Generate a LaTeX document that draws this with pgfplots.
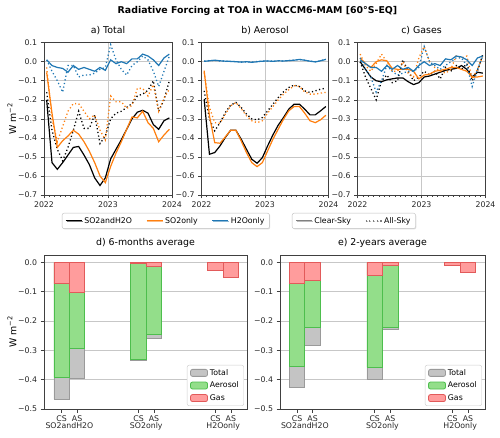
\documentclass[border=0pt]{standalone}
\usepackage{fontspec}
\setmainfont{DejaVu Sans}
\usepackage{pgfplots}
\usepackage{pgfplotstable}
\pgfplotsset{compat=1.18}
\usetikzlibrary{shadows}
\definecolor{C0}{HTML}{1F77B4}
\definecolor{C1}{HTML}{FF7F0E}
\definecolor{totfill}{HTML}{C4C4C4}
\definecolor{totedge}{HTML}{9A9A9A}
\definecolor{aerfill}{HTML}{93DE8A}
\definecolor{aeredge}{HTML}{4DBE4D}
\definecolor{gasfill}{HTML}{FF9C9C}
\definecolor{gasedge}{HTML}{E25A5A}
\newcommand\tickfont{\fontsize{7.8}{9}\selectfont}
\newcommand\titfont{\fontsize{9.4}{11}\selectfont}

% panel a) Total
\pgfplotstableread{
x csSH asSH csS asS csH asH
0.5 -0.200 -0.16 -0.056 -0.03 0.010 0.01
1.5 -0.530 -0.36 -0.270 -0.30 -0.020 -0.05
2.5 -0.565 -0.46 -0.450 -0.42 -0.030 -0.10
3.5 -0.530 -0.52 -0.415 -0.34 -0.035 -0.16
4.5 -0.490 -0.45 -0.390 -0.26 -0.055 -0.02
5.5 -0.450 -0.36 -0.360 -0.22 -0.020 -0.02
6.5 -0.445 -0.26 -0.380 -0.22 -0.040 -0.08
7.5 -0.490 -0.35 -0.420 -0.26 -0.030 -0.07
8.5 -0.540 -0.35 -0.470 -0.30 -0.040 -0.07
9.5 -0.610 -0.28 -0.530 -0.28 -0.050 -0.06
10.5 -0.650 -0.43 -0.600 -0.36 -0.030 -0.04
11.5 -0.610 -0.39 -0.635 -0.41 -0.045 -0.03
12.5 -0.510 -0.30 -0.550 -0.18 0.010 0.09
13.5 -0.460 -0.27 -0.480 -0.21 -0.010 0.01
14.5 -0.410 -0.26 -0.420 -0.21 0.000 -0.04
15.5 -0.355 -0.24 -0.355 -0.245 -0.010 -0.07
16.5 -0.300 -0.22 -0.290 -0.23 0.015 -0.02
17.5 -0.265 -0.18 -0.295 -0.14 0.015 0.00
18.5 -0.255 -0.17 -0.260 -0.14 0.040 0.03
19.5 -0.270 -0.15 -0.320 -0.18 0.030 0.01
20.5 -0.330 -0.10 -0.350 -0.12 0.010 -0.05
21.5 -0.355 -0.26 -0.420 -0.26 -0.020 -0.13
22.5 -0.310 -0.20 -0.385 -0.19 0.020 -0.05
23.5 -0.295 -0.10 -0.355 -0.145 0.040 0.03
}\tabA

% panel b) Aerosol
\pgfplotstableread{
x csSH asSH csS asS csH asH
0.5 -0.197 -0.153 -0.047 -0.056 0.002 0.004
1.5 -0.486 -0.300 -0.284 -0.240 0.005 0.006
2.5 -0.477 -0.363 -0.425 -0.320 0.008 0.007
3.5 -0.442 -0.320 -0.428 -0.323 0.005 0.004
4.5 -0.398 -0.267 -0.395 -0.275 0.003 0.003
5.5 -0.360 -0.228 -0.360 -0.232 0.002 0.001
6.5 -0.360 -0.214 -0.360 -0.214 0.000 0.001
7.5 -0.407 -0.240 -0.416 -0.246 -0.002 -0.002
8.5 -0.460 -0.275 -0.477 -0.284 0.000 -0.001
9.5 -0.512 -0.300 -0.530 -0.310 -0.003 -0.002
10.5 -0.533 -0.305 -0.551 -0.320 0.000 0.001
11.5 -0.504 -0.293 -0.530 -0.310 0.003 0.003
12.5 -0.442 -0.258 -0.468 -0.270 0.004 0.004
13.5 -0.384 -0.223 -0.407 -0.235 0.002 0.003
14.5 -0.333 -0.188 -0.354 -0.200 0.005 0.005
15.5 -0.293 -0.158 -0.302 -0.170 0.004 0.004
16.5 -0.249 -0.135 -0.258 -0.147 0.006 0.006
17.5 -0.223 -0.123 -0.235 -0.126 0.008 0.008
18.5 -0.223 -0.130 -0.235 -0.130 0.012 0.012
19.5 -0.249 -0.153 -0.270 -0.158 0.008 0.008
20.5 -0.279 -0.161 -0.310 -0.170 0.003 0.003
21.5 -0.279 -0.153 -0.320 -0.170 -0.001 0.000
22.5 -0.258 -0.144 -0.305 -0.165 0.005 0.005
23.5 -0.235 -0.139 -0.281 -0.161 0.012 0.013
}\tabB

% panel c) Gases
\pgfplotstableread{
x csSH asSH csS asS csH asH
0.5 0.000 0.00 0.020 0.04 0.010 0.02
1.5 -0.040 -0.08 -0.010 -0.02 -0.010 -0.04
2.5 -0.080 -0.14 -0.030 -0.05 -0.030 -0.08
3.5 -0.100 -0.20 0.000 -0.01 -0.030 -0.16
4.5 -0.105 -0.10 0.010 0.04 -0.050 -0.10
5.5 -0.095 -0.07 0.005 0.00 -0.020 -0.02
6.5 -0.090 -0.11 -0.035 -0.05 -0.040 -0.05
7.5 -0.085 -0.10 -0.040 -0.05 -0.020 -0.07
8.5 -0.085 0.01 -0.040 0.00 -0.040 -0.06
9.5 -0.105 -0.05 -0.040 -0.06 -0.030 -0.05
10.5 -0.120 -0.10 -0.050 -0.08 -0.050 -0.05
11.5 -0.110 -0.08 -0.090 0.02 -0.020 -0.03
12.5 -0.080 -0.05 -0.070 0.08 0.000 0.08
13.5 -0.075 -0.07 -0.065 0.00 -0.020 0.00
14.5 -0.065 -0.05 -0.050 -0.03 -0.010 -0.02
15.5 -0.055 -0.09 -0.045 -0.05 -0.020 -0.04
16.5 -0.045 -0.03 -0.040 -0.06 0.015 -0.02
17.5 -0.040 -0.05 -0.030 -0.04 0.010 0.00
18.5 -0.035 -0.02 -0.030 0.03 0.030 0.02
19.5 -0.020 -0.04 -0.040 0.02 0.025 0.02
20.5 -0.040 -0.01 -0.050 0.03 0.010 -0.02
21.5 -0.080 -0.10 -0.080 -0.09 -0.020 -0.13
22.5 -0.055 -0.05 -0.080 -0.04 0.020 -0.04
23.5 -0.060 0.04 -0.075 0.03 0.030 0.03
}\tabC

% bars: x gas aerosol total
\pgfplotstableread{
x gas aero total
-0.1 -0.073 -0.319 -0.466
0.1 -0.102 -0.191 -0.395
0.9 -0.003 -0.328 -0.336
1.1 -0.015 -0.230 -0.258
1.9 -0.026 0.002 -0.020
2.1 -0.051 0.002 -0.045
}\tabD
\pgfplotstableread{
x gas aero total
-0.1 -0.071 -0.284 -0.425
0.1 -0.062 -0.160 -0.283
0.9 -0.043 -0.314 -0.400
1.1 -0.009 -0.212 -0.230
1.9 -0.011 0.001 -0.010
2.1 -0.034 0.001 -0.030
}\tabE

\pgfplotsset{
  common/.style={
    scale only axis, anchor=south west,
    tick label style={font=\tickfont, text=black!85},
    tick align=outside, major tick length=3.5pt, minor tick length=2pt,
    tick style={black!75, line width=0.6pt},
    xtick pos=bottom, ytick pos=left,
    axis line style={black!75, line width=0.6pt},
    title style={font=\titfont, anchor=base, at={(0.5,1)}, yshift=3.5pt},
    major grid style={black!22, line width=0.6pt},
    ylabel style={font=\titfont, anchor=center},
  },
  topax/.style={common,
    width=128pt, height=152.3pt,
    xmin=0, xmax=24, ymin=-0.7, ymax=0.1,
    xtick={0,12,24}, xticklabels={2022,2023,2024},
    minor xtick={1,2,3,4,5,6,7,8,9,10,11,13,14,15,16,17,18,19,20,21,22,23},
    ytick={-0.7,-0.6,-0.5,-0.4,-0.3,-0.2,-0.1,0,0.1},
    yticklabels={−0.7,−0.6,−0.5,−0.4,−0.3,−0.2,−0.1,0.0,0.1},
    xmajorgrids, ymajorgrids,
    legend image code/.code={\draw[##1] (0pt,0pt) -- (16pt,0pt);},
  },
  botax/.style={common,
    height=154pt, ymin=-0.5, ymax=0.025,
    ytick={-0.5,-0.4,-0.3,-0.2,-0.1,0},
    yticklabels={−0.5,−0.4,−0.3,−0.2,−0.1,0.0},
    ymajorgrids,
    xtick={-0.1,0.1,0.9,1.1,1.9,2.1},
    xticklabels={CS,AS,CS,AS,CS,AS},
    extra x ticks={0,1,2},
    extra x tick labels={SO2andH2O,SO2only,H2Oonly},
    extra x tick style={major tick length=0pt, tick label style={yshift=-10pt}},
    legend style={at={(0.985,0.02)}, anchor=south east, font=\tickfont,
      draw=black!20, rounded corners=2pt, fill=white, row sep=1.2pt,
      inner xsep=3pt, inner ysep=2pt},
    legend cell align=left,
    legend image code/.code={\draw[##1] (0pt,-3.5pt) rectangle (17pt,3.5pt);},
  },
  toplegend/.style={
    legend style={font=\tickfont, anchor=north west,
      draw=black!25, rounded corners=2pt, fill=white,
      drop shadow={shadow xshift=0.8pt, shadow yshift=-0.8pt, fill=black!25},
      inner xsep=3pt, inner ysep=2pt,
      /tikz/every even column/.append style={column sep=12pt}},
  },
  cs/.style={line width=1.2pt},
  as/.style={line width=1.3pt, dash pattern=on 1.2pt off 2.5pt},
  bar/.style={ybar, bar width=0.2, bar shift=0pt, line width=0.8pt, forget plot},
}

\newcommand\topseries[1]{%
  \addplot[cs, black, forget plot] table[x=x,y=csSH]{#1};
  \addplot[as, black, forget plot] table[x=x,y=asSH]{#1};
  \addplot[cs, C1, forget plot] table[x=x,y=csS]{#1};
  \addplot[as, C1, forget plot] table[x=x,y=asS]{#1};
  \addplot[cs, C0, forget plot] table[x=x,y=csH]{#1};
  \addplot[as, C0, forget plot] table[x=x,y=asH]{#1};
}
\newcommand\bars[1]{%
  \addlegendimage{fill=totfill, draw=totedge, line width=0.8pt}
  \addlegendimage{fill=aerfill, draw=aeredge, line width=0.8pt}
  \addlegendimage{fill=gasfill, draw=gasedge, line width=0.8pt}
  \addplot[bar, fill=totfill, draw=totedge] table[x=x,y=total]{#1};
  \addplot[bar, fill=aerfill, draw=aeredge] table[x=x,y expr=\thisrow{gas}+\thisrow{aero}]{#1};
  \addplot[bar, fill=gasfill, draw=gasedge] table[x=x,y=gas]{#1};
  \legend{Total,Aerosol,Gas}
}

\begin{document}
\begin{tikzpicture}
\path[use as bounding box] (0,0) rectangle (500pt,-438pt);
\node[font=\bfseries\titfont, anchor=base] at (257.5pt,-13.5pt) {Radiative Forcing at TOA in WACCM6-MAM [60°S-EQ]};

% a) Total
\begin{axis}[topax, toplegend, at={(44pt,-195pt)}, title={a) Total},
  ylabel={W m\textsuperscript{−2}},
  ylabel style={at={(axis description cs:-0.252,0.5)}},
  legend columns=3,
  legend style={at={(0.14,-0.118)}},
  ]
  \addlegendimage{black, line width=1.2pt}
  \addlegendimage{C1, line width=1.2pt}
  \addlegendimage{C0, line width=1.2pt}
  \topseries{\tabA}
  \legend{SO2andH2O,SO2only,H2Oonly}
\end{axis}

% b) Aerosol
\begin{axis}[topax, at={(201.5pt,-195pt)}, width=127pt, title={b) Aerosol}]
  \topseries{\tabB}
\end{axis}

% c) Gases
\begin{axis}[topax, toplegend, at={(357.5pt,-195pt)}, title={c) Gases},
  legend columns=2,
  legend style={at={(-0.512,-0.118)}},
  ]
  \addlegendimage{gray, line width=1.2pt}
  \addlegendimage{gray, line width=1.3pt, dash pattern=on 1.2pt off 2.5pt}
  \topseries{\tabC}
  \legend{Clear-Sky,All-Sky}
\end{axis}

% d) 6-months average
\begin{axis}[botax, at={(44pt,-409pt)}, width=203pt, xmin=-0.33, xmax=2.31,
  title={d) 6-months average},
  ylabel={W m\textsuperscript{−2}},
  ylabel style={at={(axis description cs:-0.158,0.5)}}]
  \bars{\tabD}
\end{axis}

% e) 2-years average
\begin{axis}[botax, at={(280pt,-409pt)}, width=205pt, xmin=-0.32, xmax=2.32,
  title={e) 2-years average}]
  \bars{\tabE}
\end{axis}
\end{tikzpicture}
\end{document}
